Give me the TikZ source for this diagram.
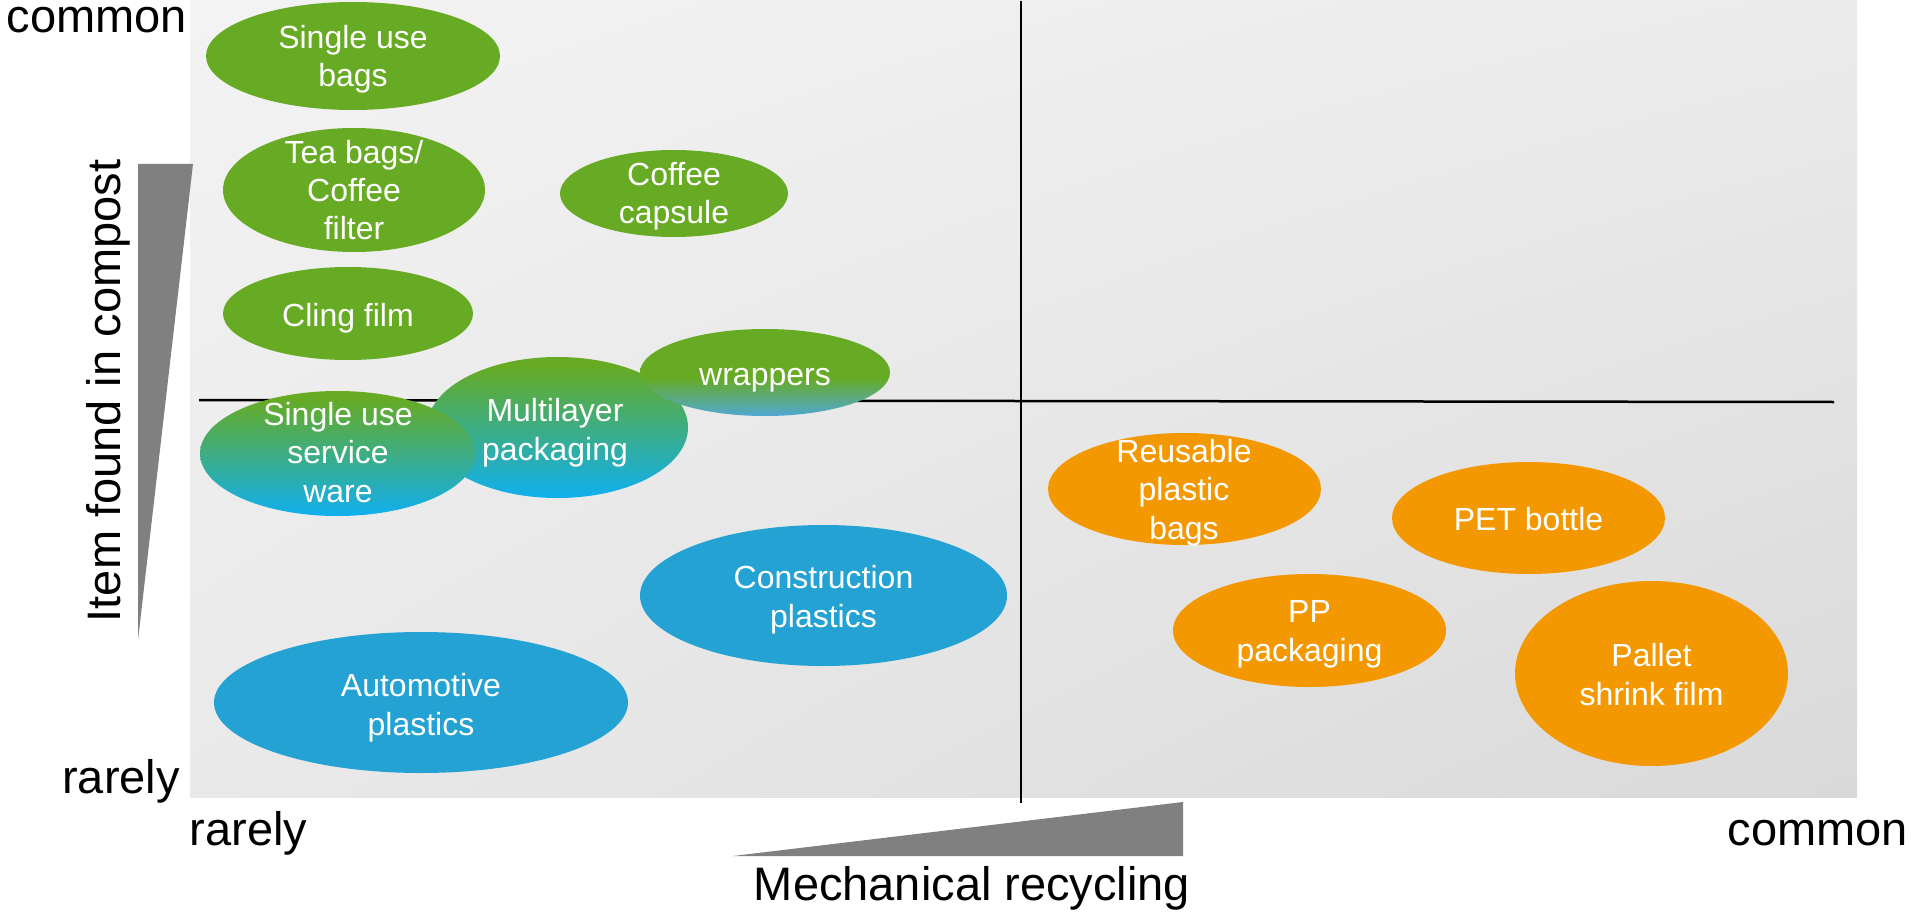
\documentclass[tikz,border=0pt]{standalone}
\usepackage{fontspec}
\setmainfont{Liberation Sans}
\usetikzlibrary{shapes.geometric,shadings}

\definecolor{cgreen}{RGB}{102,171,35}
\definecolor{cblue}{RGB}{35,162,211}
\definecolor{corange}{RGB}{243,152,0}
\definecolor{cmlblue}{RGB}{16,175,239}
\definecolor{cwrblue}{RGB}{80,168,212}
\definecolor{cwedge}{RGB}{128,128,128}
\definecolor{pul}{RGB}{243,243,243}
\definecolor{pur}{RGB}{235,235,235}
\definecolor{pll}{RGB}{233,233,233}
\definecolor{plr}{RGB}{217,217,217}

\pgfdeclareverticalshading{mlshade}{100bp}{color(0bp)=(cmlblue); color(25bp)=(cmlblue); color(72bp)=(cgreen); color(100bp)=(cgreen)}
\pgfdeclareverticalshading{wrshade}{100bp}{color(0bp)=(cwrblue); color(25bp)=(cwrblue); color(47bp)=(cgreen); color(100bp)=(cgreen)}

\begin{document}
\begin{tikzpicture}[x=1pt,y=-1pt,
  blob/.style 2 args={ellipse, inner sep=0pt, outer sep=0pt, minimum width=#1, minimum height=#2},
  gblob/.style={fill=cgreen},
  bblob/.style={fill=cblue},
  oblob/.style={fill=corange},
  mixblob/.style={shading=mlshade},
  wrblob/.style={shading=wrshade},
  txt/.style={text=white, font=\fontsize{32}{38.5}\selectfont, align=center, anchor=base, inner sep=0pt},
  axlbl/.style={text=black, font=\fontsize{47}{56}\selectfont, anchor=base, inner sep=0pt},
  axisline/.style={draw=black, line width=#1},
  wedge/.style={fill=cwedge}
]
\path[use as bounding box] (0,0) rectangle (1911,912);

% background panel
\shade[upper left=pul, upper right=pur, lower left=pll, lower right=plr] (190,1) rectangle (1857,797);

% axis wedges
\fill[wedge] (138,164) -- (193,164) -- (138,640) -- cycle;
\fill[wedge] (733,856) -- (1183,802) -- (1183,856) -- cycle;

% quadrant lines
\coordinate (hA) at (199,400);
\coordinate (hB) at (1834,402);
\coordinate (vA) at (1021,1);
\coordinate (vB) at (1021,803);
\draw[axisline=2.5pt] (hA) -- (hB);
\draw[axisline=2pt] (vA) -- (vB);

% ellipses
\node[blob={294pt}{108pt}, gblob] (sbags) at (353,56) {};
\node[blob={262pt}{124pt}, gblob] (tea) at (354,190) {};
\node[blob={250pt}{93pt}, gblob] (cling) at (348,313.5) {};
\node[blob={228pt}{87pt}, gblob] (capsule) at (674,193.5) {};
\node[blob={261pt}{141pt}, mixblob] (multi) at (557.5,427.5) {};
\node[blob={275pt}{125pt}, mixblob] (suse) at (337.5,453.5) {};
\node[blob={250pt}{87pt}, wrblob] (wrap) at (765,372.5) {};
\node[blob={414pt}{141pt}, bblob] (auto) at (421,702.5) {};
\node[blob={367pt}{141pt}, bblob] (constr) at (823.5,595.5) {};
\node[blob={273pt}{112pt}, oblob] (reuse) at (1184.5,489) {};
\node[blob={273pt}{112pt}, oblob] (pet) at (1528.5,518) {};
\node[blob={273pt}{113pt}, oblob] (pp) at (1309.5,630.5) {};
\node[blob={273pt}{185pt}, oblob] (pallet) at (1651.5,673.5) {};

% ellipse texts (anchor base = baseline of the last line)
\node[txt] (sbags-t) at (353,87) {Single use\\bags};
\node[txt] (tea-t) at (354,240) {Tea bags/\\Coffee\\filter};
\node[txt] (cling-t) at (348,326) {Cling film};
\node[txt] (capsule-t) at (674,224) {Coffee\\capsule};
\node[txt] (multi-t) at (555,460) {Multilayer\\packaging};
\node[txt] (suse-t) at (338,502) {Single use\\service\\ware};
\node[txt] (wrap-t) at (765,385) {wrappers};
\node[txt] (auto-t) at (421,735) {Automotive\\plastics};
\node[txt] (constr-t) at (823.5,627) {Construction\\plastics};
\node[txt] (reuse-t) at (1184,539) {Reusable\\plastic\\bags};
\node[txt] (pet-t) at (1528.5,530) {PET bottle};
\node[txt] (pp-t) at (1309.5,661) {PP\\packaging};
\node[txt] (pallet-t) at (1651.5,705) {Pallet\\shrink film};

% axis labels
\node[axlbl] (ytop) at (97,33) {common};
\node[axlbl] (ybot) at (121,793) {rarely};
\node[axlbl] (xleft) at (248.5,845) {rarely};
\node[axlbl] (xright) at (1818,845) {common};
\node[axlbl] (xtitle) at (972,900) {Mechanical recycling};
\node[axlbl, rotate=90] (ytitle) at (120,391) {Item found in compost};
\end{tikzpicture}
\end{document}
